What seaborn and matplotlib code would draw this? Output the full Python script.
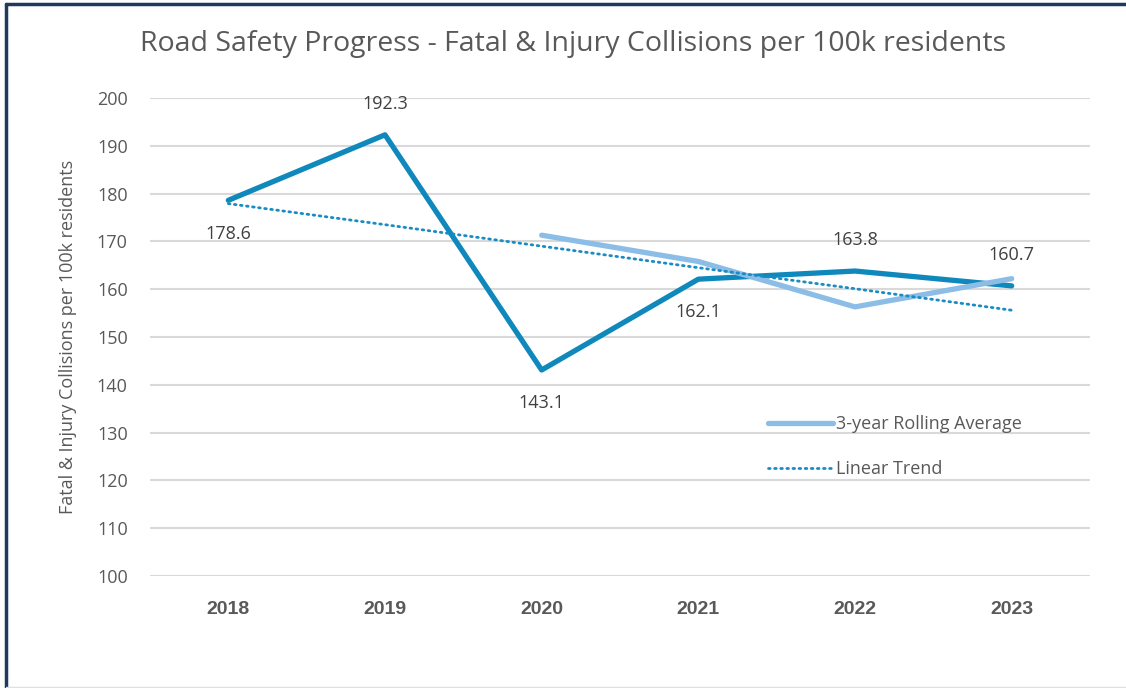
import pandas as pd
import matplotlib.pyplot as plt
import seaborn as sns
from matplotlib.lines import Line2D

sns.set_theme(style="whitegrid")
plt.rcParams['font.family'] = ['Open Sans', 'DejaVu Sans']

years = ["2018", "2019", "2020", "2021", "2022", "2023"]
collisions = [178.6, 192.3, 143.1, 162.1, 163.8, 160.7]
rolling_avg = [None, None, 171.3, 165.8, 156.3, 162.2]
trend = [177.9, 173.5, 169.0, 164.5, 160.1, 155.6]
label_pos = ["below", "above", "below", "below", "above", "above"]

df = pd.DataFrame({"year": years, "collisions": collisions,
                   "rolling": rolling_avg, "trend": trend})
df["x"] = range(len(df))

fig = plt.figure(figsize=(11.26, 6.88), dpi=100)
ax = fig.add_axes([150 / 1126, 1 - 576 / 688, 940 / 1126, 478 / 688])

sns.lineplot(data=df, x="x", y="collisions", ax=ax, color="#0F88BC", linewidth=3.8,
             solid_capstyle="round", label="_nolegend_")
sns.lineplot(data=df.dropna(), x="x", y="rolling", ax=ax, color="#8BBDE6", linewidth=3.8,
             solid_capstyle="round", label="3-year Rolling Average")
sns.lineplot(data=df, x="x", y="trend", ax=ax, color="#1A8CC4", linewidth=2,
             linestyle=(0, (0.6, 1.6)), dash_capstyle="round", label="Linear Trend")

for i, (v, pos) in enumerate(zip(collisions, label_pos)):
    off = 22 if pos == "above" else -24
    ax.annotate(f"{v:.1f}", (i, v), xytext=(0, off), textcoords="offset points",
                ha="center", va="center", fontsize=13, color="#404040")

ax.set_xlim(-0.5, 5.5)
ax.set_ylim(100, 200)
ax.set_yticks(range(100, 201, 10))
ax.set_xticks(df["x"])
ax.set_xticklabels(years, fontsize=14, fontweight="bold", color="#595959",
                   family=["Liberation Sans", "DejaVu Sans"])
ax.tick_params(axis="x", pad=18, length=0)
ax.tick_params(axis="y", labelsize=13, labelcolor="#595959", pad=16, length=0)
ax.grid(axis="y", color="#D9D9D9", linewidth=1.5)
ax.grid(axis="x", visible=False)
for s in ax.spines.values():
    s.set_visible(False)
ax.set_xlabel("")
ax.set_ylabel("Fatal & Injury Collisions per 100k residents", fontsize=13,
              color="#595959", labelpad=14)

fig.text(573 / 1126, 1 - 44 / 688,
         "Road Safety Progress - Fatal & Injury Collisions per 100k residents",
         ha="center", va="center", fontsize=20.5, color="#595959")

leg = ax.legend(loc="upper left", bbox_to_anchor=(0.64, 0.37), frameon=False,
                fontsize=13, handlelength=3.6, labelspacing=1.5, handletextpad=0.2)
for t in leg.get_texts():
    t.set_color("#595959")

# outer frame like the pasted chart
fig.add_artist(Line2D([6 / 1126, 6 / 1126], [0, 1 - 4 / 688], color="#1F3A5A", linewidth=2.5))
fig.add_artist(Line2D([6 / 1126, 1], [1 - 4 / 688, 1 - 4 / 688], color="#1F3A5A", linewidth=2.5))
fig.add_artist(Line2D([6 / 1126, 1], [1 / 688, 1 / 688], color="#E0E0E0", linewidth=1))

fig.savefig("out.png", dpi=100)
